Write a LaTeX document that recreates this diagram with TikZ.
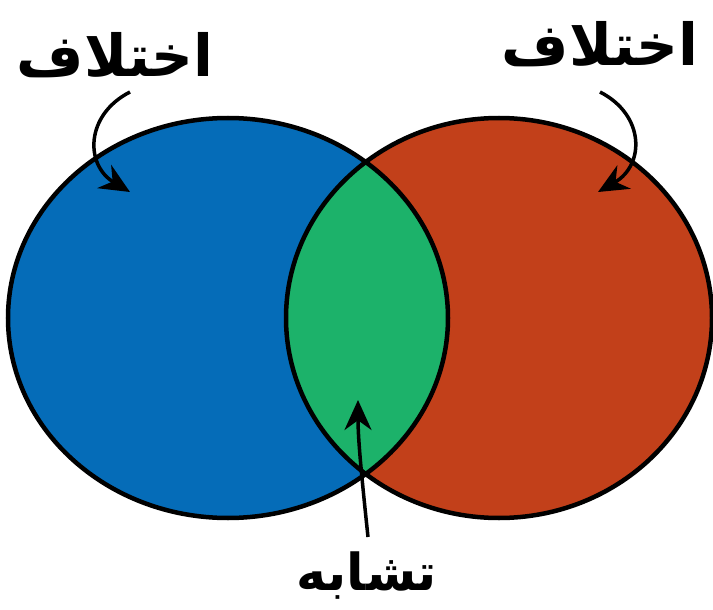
\documentclass[tikz,border=0pt]{standalone}
\usepackage{fontspec}
\newfontfamily\arabicfont[Script=Arabic]{DejaVu Sans}
\TeXXeTstate=1
\usetikzlibrary{arrows.meta}
\definecolor{vblue}{RGB}{5,108,184}
\definecolor{vred}{RGB}{194,64,26}
\definecolor{vgreen}{RGB}{28,178,106}
\tikzset{
  lbl/.style={font=\arabicfont\bfseries\fontsize{58}{62}\selectfont, inner sep=0pt},
  lblsmall/.style={font=\arabicfont\bfseries\fontsize{51}{55}\selectfont, inner sep=0pt},
  outline/.style={draw=black, line width=4.5pt},
  pointer/.style={draw=black, line width=3.5pt, -{Stealth[length=30pt,width=27pt]}}
}
\begin{document}
\begin{tikzpicture}[x=1pt,y=-1pt]
\useasboundingbox (0,0) rectangle (713,610);
% ellipses
\coordinate (cb) at (228,318);
\coordinate (cr) at (499,318);
\fill[vblue] (cb) ellipse [x radius=220pt, y radius=200pt];
\fill[vred] (cr) ellipse [x radius=213pt, y radius=200pt];
\begin{scope}
  \clip (cb) ellipse [x radius=220pt, y radius=200pt];
  \fill[vgreen] (cr) ellipse [x radius=213pt, y radius=200pt];
\end{scope}
\draw[outline] (cb) ellipse [x radius=220pt, y radius=200pt];
\draw[outline] (cr) ellipse [x radius=213pt, y radius=200pt];
% labels
\node[lbl] (tl) at (115,55) {\beginR اختلاف\endR};
\node[lbl] (tr) at (600,44) {\beginR اختلاف\endR};
\node[lblsmall] (tb) at (367,576) {\beginR تشابه\endR};
% arrow ends
\coordinate (sl) at (130,92);
\coordinate (el) at (130,192);
\coordinate (sr) at (600,92);
\coordinate (er) at (598,192);
\coordinate (sb) at (368,537);
\coordinate (eb) at (358,400);
\draw[pointer] (sl) .. controls (85,115) and (85,165) .. (el);
\draw[pointer] (sr) .. controls (645,115) and (645,165) .. (er);
\draw[pointer] (sb) .. controls (362,480) and (358,440) .. (eb);
\end{tikzpicture}
\end{document}
